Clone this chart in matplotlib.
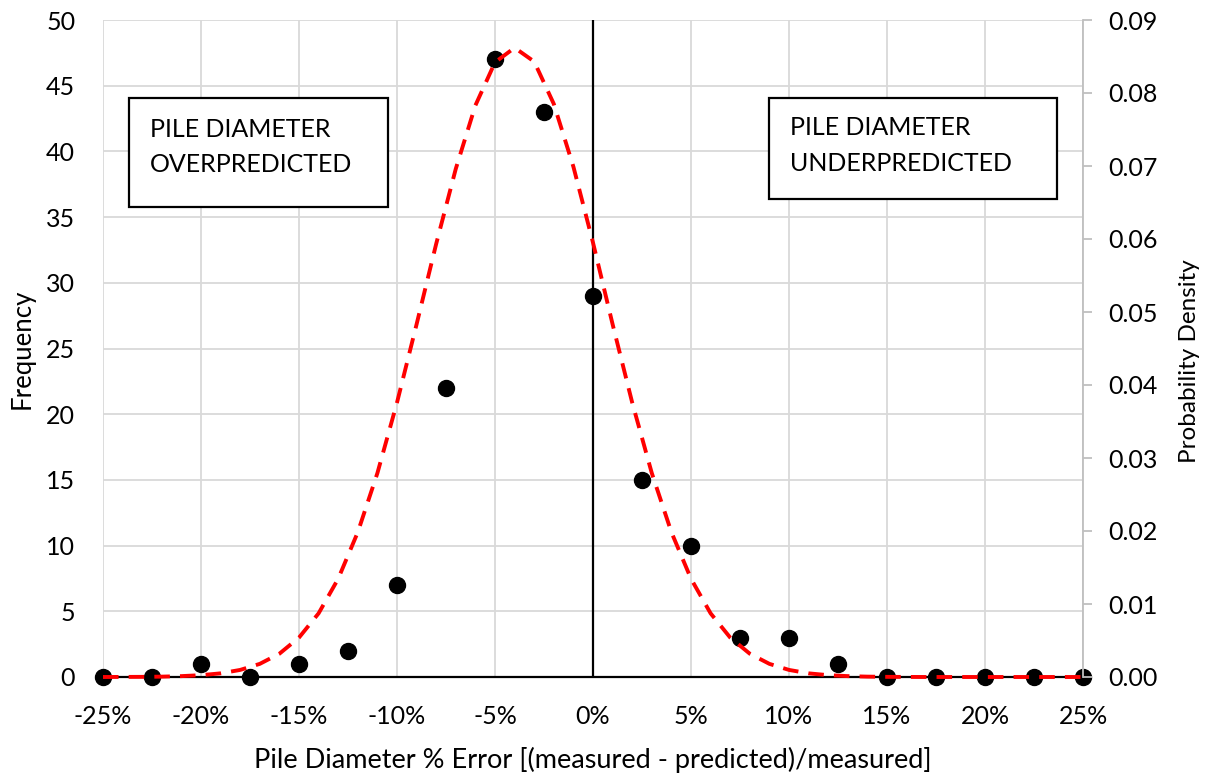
import matplotlib
matplotlib.use("Agg")
import matplotlib.pyplot as plt
from matplotlib.ticker import FuncFormatter

plt.rcParams['font.family'] = ['Lato', 'DejaVu Sans']

# observed frequencies at each 2.5% bin
err_pct = [-25, -22.5, -20, -17.5, -15, -12.5, -10, -7.5, -5, -2.5, 0,
           2.5, 5, 7.5, 10, 12.5, 15, 17.5, 20, 22.5, 25]
freq = [0, 0, 1, 0, 1, 2, 7, 22, 47, 43, 29, 15, 10, 3, 3, 1, 0, 0, 0, 0, 0]

# fitted probability density (1% steps)
curve_x = list(range(-25, 26))
curve_pd = [0.00000, 0.00001, 0.00002, 0.00005, 0.00012, 0.00025, 0.00050,
            0.00097, 0.00180, 0.00319, 0.00540, 0.00872, 0.01346, 0.01984,
            0.02793, 0.03759, 0.04832, 0.05934, 0.06962, 0.07830, 0.08420,
            0.08620, 0.08430, 0.07850, 0.06990, 0.05950, 0.04832, 0.03759,
            0.02793, 0.01984, 0.01346, 0.00872, 0.00540, 0.00319, 0.00180,
            0.00097, 0.00050, 0.00025, 0.00012, 0.00005, 0.00002, 0.00001,
            0.00000, 0.00000, 0.00000, 0.00000, 0.00000, 0.00000, 0.00000,
            0.00000, 0.00000]

x_ticks = [-25, -20, -15, -10, -5, 0, 5, 10, 15, 20, 25]
freq_ticks = [0, 5, 10, 15, 20, 25, 30, 35, 40, 45, 50]
pd_ticks = [0.00, 0.01, 0.02, 0.03, 0.04, 0.05, 0.06, 0.07, 0.08, 0.09]

fig = plt.figure(figsize=(12.11, 7.76), dpi=100)
ax = fig.add_axes([103/1211, 1-677/776, 980/1211, 657/776])
ax2 = ax.twinx()

grid_c = '#d9d9d9'
ax.set_xlim(-25, 25)
ax.set_ylim(0, 50)
ax.set_xticks(x_ticks)
ax.set_yticks(freq_ticks)
ax.xaxis.set_major_formatter(FuncFormatter(lambda v, p: '%d%%' % v))
ax.grid(True, color=grid_c, lw=1.3)
ax.set_axisbelow(True)
ax.tick_params(axis='both', length=0, labelsize=18)
ax.tick_params(axis='y', pad=20)
ax.tick_params(axis='x', pad=20)
for s in ['top', 'left', 'right']:
    ax.spines[s].set_visible(False)
ax.spines['bottom'].set_color('black')
ax.spines['bottom'].set_linewidth(1.6)

ax.axvline(0, color='black', lw=1.6, zorder=2)
ax.plot(err_pct, freq, 'o', color='black', ms=11.5, clip_on=False, zorder=3)

ax2.set_ylim(0, 0.09)
ax2.set_yticks(pd_ticks)
ax2.yaxis.set_major_formatter(FuncFormatter(lambda v, p: '%.2f' % v))
ax2.tick_params(axis='y', length=6.5, width=1.3, color='#bfbfbf', labelsize=18, pad=12)
for s in ['top', 'left', 'bottom']:
    ax2.spines[s].set_visible(False)
ax2.spines['right'].set_color('#bfbfbf')
ax2.spines['right'].set_linewidth(1.3)
ax2.plot(curve_x, curve_pd, color='red', lw=2.8, dashes=(4, 2.6), clip_on=False)

ax.set_xlabel('Pile Diameter % Error [(measured - predicted)/measured]', fontsize=19.5, labelpad=14)
ax.set_ylabel('Frequency', fontsize=18.5, labelpad=8)
ax2.set_ylabel('Probability Density', fontsize=17.5, va='center')
ax2.yaxis.set_label_coords((1190 - 103) / 980, (677 - 361) / 657)

# annotation boxes
for x0, x1, y0, y1 in [(0.0265, 0.291, 0.7154, 0.8813), (0.6796, 0.9735, 0.7275, 0.8813)]:
    ax.add_patch(plt.Rectangle((x0, y0), x1 - x0, y1 - y0, transform=ax.transAxes,
                               fill=True, facecolor='white', edgecolor='black', lw=1.6, zorder=5))
ax.text(0.048, 0.8219, 'PILE DIAMETER', transform=ax.transAxes, fontsize=18, va='baseline', zorder=6)
ax.text(0.048, 0.7686, 'OVERPREDICTED', transform=ax.transAxes, fontsize=18, va='baseline', zorder=6)
ax.text(0.701, 0.825, 'PILE DIAMETER', transform=ax.transAxes, fontsize=18, va='baseline', zorder=6)
ax.text(0.701, 0.7707, 'UNDERPREDICTED', transform=ax.transAxes, fontsize=18, va='baseline', zorder=6)

fig.savefig('out.png', dpi=100)
